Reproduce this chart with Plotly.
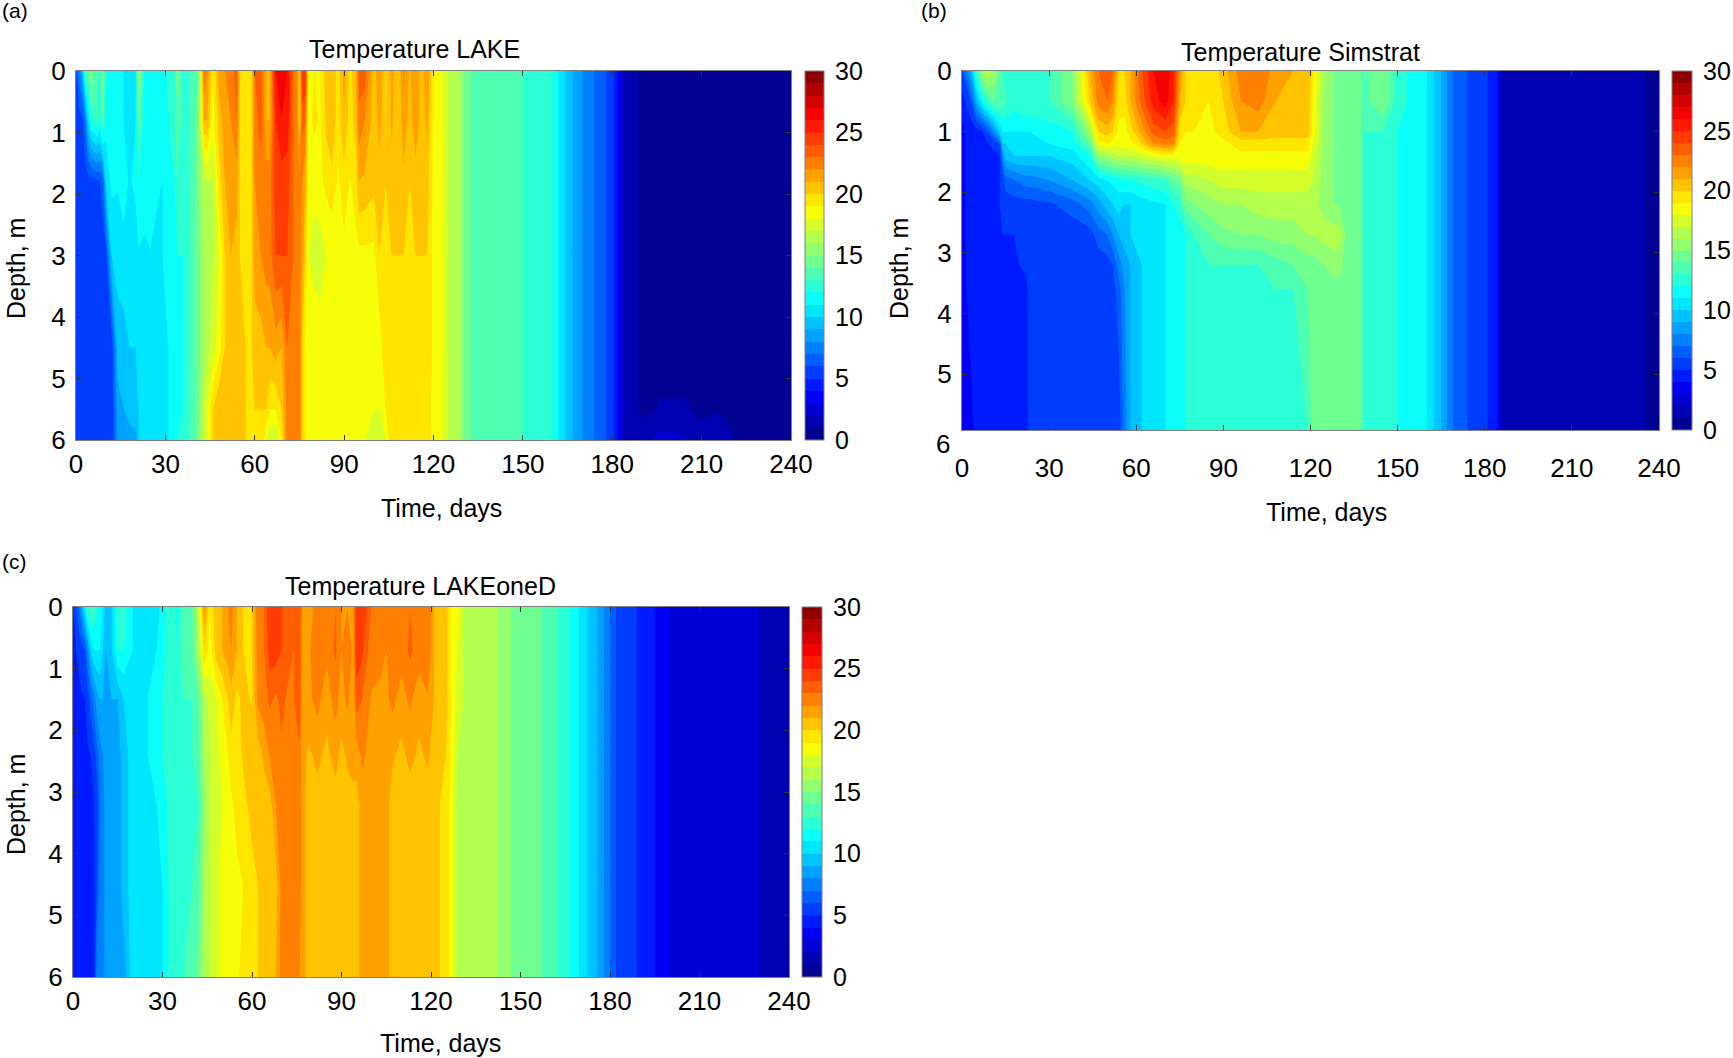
import numpy as np
import plotly.graph_objects as go

W, H = 1733, 1058
FONT = "Liberation Sans"
TICK_SIZE = 26
LABEL_SIZE = 25

x_ticks = [0, 30, 60, 90, 120, 150, 180, 210, 240]
y_ticks = [0, 1, 2, 3, 4, 5, 6]
cb_ticks = [0, 5, 10, 15, 20, 25, 30]

# ---------- (a) LAKE ----------
lake_days = [0,1,2,3,4,5,6,7,8,9,
             10,12,14,16,18,20,21,23,25,27,
             29,31,33,34,36,38,40,41,43,44,
             46,48,50,52,54,55,57,59,60,62,
             64,65,67,69,71,73,74,75,76,77,
             78,80,82,84,86,88,90,92,94,95,
             97,100,102,104,106,108,110,112,114,116,
             118,120,122,125,128,
             130,134,140,150,160,165,170,176,180,184,190,196,204,210,216,222,240]
lake_depths = [0, 0.8, 1.8, 3, 4.5, 5.5, 6]
lake_tail = [15,13.5,13.5,13,12,9.5,8,6.5,5.5,1.8,0.8,0.8,0.8,0.8,0.8,0.8,0.7]
lake_tail_low = [15,13.5,13.5,13,12,9.5,8,6.5,5.5,1.8,0.8,1.05,1.05,0.9,0.9,0.85,0.7]
lake_tail_bottom = [15,13.5,13.5,13,12,9.5,8,6.5,5.5,1.8,1.5,2.4,2.2,1.2,2.1,0.9,0.7]
lake_d0 = [6,7.5,9,13,13.5,16,14,14,12.5,15.5,
           12,11.5,11.5,11,11,11,16,12,12,11.5,
           11,12.5,12.5,15,12.5,13,14,14,23,22,
           19,21.5,22,22.5,23.5,20,20,20,23,23.5,
           21,21,26,26.5,26,23,23,19.5,25,25,
           19,19,19,20.5,21,19.5,21.5,19.5,21,23.5,
           23.5,20.5,22,19.8,21.5,20,22.3,20.8,22,20.5,
           22,18.7,18.7,17,17]
lake_d1 = [5.3,5.5,5.8,7,10,12,12.5,13,12,14,
           11.5,11.5,11.5,11,11,11,14,11.5,12,11.5,
           11,12,12.5,14,12.5,13,14,15,21,21,
           18.5,20.5,21.5,22,23,20,20,20,22.5,23.5,
           21,21,25,26,25.5,23,23,20,23.5,23,
           18.7,19.2,18.9,20.3,20.8,19.4,20.9,19.5,20.5,22.7,
           22,20.5,21.3,19.9,21.2,20,21.6,20.6,21.6,20.6,
           21.2,18.7,18.7,17,17]
lake_d2 = [5.2,5.2,5.3,5.3,5.4,5.5,5.6,5.8,6,6.5,
           10,11.3,11.1,11.4,10.9,11.2,12,11.5,12,11.3,
           11,11.5,12,13,12.5,13,14,15,16.5,17,
           17,19.5,21,21.5,21.5,20,20,20,22,22.5,
           22.5,22.5,24.5,24.5,24.5,23,23,22.5,22,21,
           18.9,18.4,18.7,19.3,19.7,18.8,19.6,18.9,19.5,21,
           20.8,20.3,20.7,20,20.6,20.1,20.8,20,20.6,20.2,
           20.5,18.7,18.7,17,17]
lake_d3 = [5.2,5.2,5.2,5.2,5.2,5.2,5.3,5.3,5.4,5.5,
           5.6,10,10.4,10.7,10.3,10.6,10.9,10.8,10.9,10.6,
           11,11.5,12,12,12,13,14,14.5,16,16.5,
           17,18,20,21,20.5,20,20,20,21.5,22,
           22.5,22.5,24,24,24,23,23,22.5,21.5,20,
           18,17.5,17.5,18,18,18.5,18.7,18.7,18.7,18.7,
           18.7,18.7,20,20,20,20,20,20,20,20,
           20,18.7,18.7,17,17]
lake_d4 = [5.2,5.2,5.2,5.2,5.2,5.2,5.2,5.2,5.3,5.3,
           5.3,5.4,9.5,9.5,10,10,10.5,11,11,11,
           11,11,12,12,12,13,14,14.5,16,16.5,
           17.5,18.5,20,21,21,20.5,20,20,20.5,20.5,
           21,21,21.5,21,23,23,23,23,20,19,
           19,19,18.5,18.5,18.5,18.5,18.7,18.5,18.5,18.5,
           18.5,18.5,18.5,20,20,20,20,20,20,20,
           20,18.7,18.7,17,17]
lake_d5 = [5.2,5.2,5.2,5.2,5.2,5.2,5.2,5.2,5.3,5.3,
           5.3,5.3,8.5,9,9.5,10,10,10.5,11,11,
           11,11,12,12,12,13,14,14.5,17,18,
           20,21,21,21,21,20.5,20,20,20,20,
           20,19,19,20,22.5,23,23,23,20,19,
           19,19,18.5,18.5,18.5,18.5,18.5,18.5,18.5,18.5,
           18.5,18,18,19,20,20,20,20,19.5,19.5,
           19.5,18.7,18.7,17,17]
lake_d6 = [5.2,5.2,5.2,5.2,5.2,5.2,5.2,5.2,5.3,5.3,
           5.3,5.3,8.5,9,8.5,8.5,10,10.5,11,11,
           11,11,12,12,13,13,14,15,17,18,
           20,21,21,21,21,20.5,20,20,20,20,
           18,17,17,19,23,23,23,23,20,19,
           19,19,18.5,18.5,18.5,18.5,18.5,18.5,18.5,18.5,
           18,17,17,18,20,20,20,20,19.5,19.5,
           19.5,18.7,18.7,17,17]
lake_z = np.array([lake_d0+lake_tail, lake_d1+lake_tail, lake_d2+lake_tail, lake_d3+lake_tail,
                   lake_d4+lake_tail, lake_d5+lake_tail_low, lake_d6+lake_tail_bottom])

# ---------- (b) Simstrat ----------
sim_days = [0,3,5,7,9,11,13,14,15,18,
            22,23,30,38,44,47,50,52,54,56,
            58,62,66,70,73,75,77,80,85,90,
            96,102,108,114,119,121,125,128,130,132,
            137,138,145,150,160,165,170,178,184,186,210,212,232,240]
sim_depths = [0, 0.5, 1, 1.2, 1.4, 1.8, 2.2, 2.7, 3.2, 3.6, 5.92]
sim_tail = [14.5,13,13,12,11,9,6.5,5.5,4.5,1.2,1.2,1.4,1.3,0.6]
sim_tail_top = [14.5,13.5,15,12.5,11,9,6.5,5.5,4.5,1.2,1.2,1.4,1.3,0.6]
sim_d0 = [6,9,13,16,17,16,14,13,13,12.5,
          13,13,13,15,21,23,23.5,23,20,20,
          21,24,26,27,25,22,20,20,19,20.5,
          22.5,23,21.5,21,21,19,16,15,15,15]
sim_d1 = [4.5,6,9,11.5,13,14,14,13.5,13,12.5,
          13,13,13,15,20,22.5,23,22,19.5,19.5,
          21,23.5,25.5,26.5,25,21,20,20,19,20,
          22,22.5,21,21,21,18.7,15.5,15,15,15]
sim_d2 = [3.8,4.3,4.5,5,6,8,10,11,11,11,
          11,11,11.5,12,16,20,20.5,20,18.7,18.5,
          19.5,21.5,23.5,24,23.5,19.5,19,19,18.7,19.5,
          21,21,20.5,20.5,20.5,18.5,15.5,15,15,15]
sim_d3 = [3.8,4.3,4.5,4.5,5,5.3,6,10,10,10.3,
          10.5,10.5,11,11.5,14,18.5,19,18.5,18.5,18.5,
          18.7,20,22,22.5,22,19,18.7,18.7,18.7,18.7,
          19.5,19.5,19.5,19.5,19.5,18,15.5,15,15,15]
sim_d4 = [3.8,4.3,4.5,4.5,4.6,4.8,5,8,9.5,10,
          10,10,10,10.5,12,15.5,16,16.5,17,17,
          17,17.5,18,18.5,18.5,18.5,18.7,18.7,18.7,18.7,
          18.7,18.7,18.7,18.7,18.7,17.5,15.5,15,15,15]
sim_d5 = [3.8,4.3,4.5,4.5,4.6,4.8,5,5.3,6.5,7,
          7.5,7.5,8,9,10,10.5,11,11.3,11.5,12,
          12,12.3,12.7,13,14,14.5,16.5,16.5,17,17.5,
          17.5,17.5,17.5,17.5,17.5,17,15.5,15,15,15]
sim_d6 = [3.8,4.3,4.5,4.5,4.6,4.8,5,5.3,5.4,5.5,
          5.6,5.6,5.8,6.5,7.5,8.5,9.5,10,10.5,10,
          10,10.5,10.8,11,12,12.5,14.5,15,15.5,16,
          16,16.5,16.5,16.5,16.5,16.5,15.5,15,15,15]
sim_d7 = [3.8,4.3,4.5,4.5,4.5,4.6,4.8,5,5,5,
          5.3,5.3,5.3,5.3,5.6,6.5,7,8,9,9.5,
          10,10.3,10.8,11,11.2,11.5,12,13,14,14.7,
          15,15,15.5,15.5,16,16,16.5,16.5,16.5,15]
sim_d8 = [3.8,4.2,4.3,4.3,4.4,4.5,4.5,4.7,4.7,4.8,
          5.3,5.3,5.3,5.3,5.3,5.4,5.5,6,7.5,8.5,
          9,10,10.8,11,11.2,11.5,12,13,13,13,
          13,13,13.5,14,14.5,14.5,15,15.5,15.5,14.5]
sim_d9 = [3.8,4.2,4.2,4.3,4.3,4.3,4.4,4.4,4.4,4.5,
          4.6,5.3,5.3,5.3,5.3,5.3,5.4,5.6,6.5,8,
          9,10,10.8,11,11.2,11.5,12,13,13,13,
          13,13,13,13,14,14.5,14.5,14.5,14.5,14.5]
sim_d10 = [3.8,3.8,4.3,4.3,4.3,4.3,4.3,4.3,4.3,4.3,
           4.3,5.3,5.3,5.3,5.3,5.3,5.3,5.3,5.3,7.5,
           9,10,10.8,11,11.2,11.5,12,13,13,13,
           13,13,13,13,13,14.5,14.5,14.5,14.5,14.5]
sim_z = np.array([sim_d0+sim_tail_top, sim_d1+sim_tail_top, sim_d2+sim_tail, sim_d3+sim_tail, sim_d4+sim_tail,
                  sim_d5+sim_tail, sim_d6+sim_tail, sim_d7+sim_tail, sim_d8+sim_tail, sim_d9+sim_tail, sim_d10+sim_tail])

# ---------- (c) LAKEoneD ----------
one_days = [0,1,2,3,4,5,6,7,8,9,
            10,11,13,15,17,20,22,25,28,30,
            33,35,37,40,42,44,46,48,50,52,
            53,55,57,60,62,64,66,68,70,72,
            74,76,77,79,82,85,88,90,92,94,
            95,97,100,103,105,107,110,113,116,119,
            121,123,125,127,129,
            131,136,140,147,154,160,165,171,177,183,189,195,201,225,232,240]
one_depths = [0, 0.7, 1.5, 2.4, 3.2, 4.5, 6]
one_tail = [17,17,16.5,15,14.5,13.5,12.5,10.5,8.5,5.5,5,4,2.8,2.5,1.8,1]
one_d0 = [5,6,7,9,11,13,13.5,13,12,12,
          11,9.5,10,12.5,12.5,11,10.5,10.5,10.5,11.5,
          13,11.5,14,14,17,22,19,21,21,22,
          22.5,21,20,20,23,23,25,25,24,23.5,
          23.5,24,21.5,21.5,22.5,22.5,23,22,22,22,
          25,25,23,23,22,23,23,23,23,23,
          21,20.5,20.5,18.5,18.5]
one_d1 = [4.8,5,5.2,5.5,6,8,10,11,11,11,
          10,9,10,12,12,11,10.5,10.5,11,11.5,
          13,12,13.5,14,16,20,18.5,20.5,21,21.5,
          22,21,20,20,22.5,23,24.5,24.5,24,23.5,
          23,23.8,21.2,21.8,22.8,22.2,23.2,22,22.6,21.8,
          24.8,24.2,22.4,23,22,23,22.4,23.2,22.5,23,
          21,20.5,20.5,18.5,18]
one_d2 = [4.6,4.7,4.8,4.9,5,5.5,6.5,7.5,8.5,9,
          9,9,9,9,10,10.5,11,11,11.5,12,
          12.5,13,13,13,14,16.5,17.5,18,19,20,
          20.6,19.7,20.3,19.9,22.3,22.6,23.2,22.8,23.3,22.8,
          23,24,21.2,21.8,22.3,21.5,22.4,21.6,22.2,21.4,
          23.5,23,21.9,21.3,21.7,22.3,21.6,22.2,21.4,21.9,
          21,20.5,20.5,18.7,17.5]
one_d3 = [4.5,4.6,4.7,4.8,4.8,4.9,5,5.5,6.5,7.5,
          8,8.5,8.5,8.5,9.5,10.5,11,11,11.5,12,
          12.5,13,13,13,13.5,16,17,17.5,18.5,19,
          19.6,19.3,20.2,20.7,20.4,21.2,22.1,22.5,22.8,22.4,
          22.5,22.8,21.3,20.8,21.3,20.7,21.4,20.7,21.2,21.6,
          21.5,22.2,21.6,21.2,21.8,21.2,20.7,21.3,20.8,21.2,
          20.5,20.5,20,18.7,17]
one_d4 = [4.5,4.5,4.6,4.7,4.7,4.8,4.8,5,5.5,7,
          7.5,8.5,8.5,8.5,9.5,10.5,10.8,10.8,11,11.5,
          12.5,13,13,13,13,15.5,17,17.5,18,18.7,
          18.7,19.5,19.5,20.5,20.5,20.5,20.5,22,22.5,22.5,
          22.5,22.5,21.5,20.5,20.5,20.5,20.5,20.5,20.5,20.5,
          20.5,21.5,21.5,21.5,21.5,20.5,20.5,20.5,20.5,20.5,
          20.5,20,19.5,18.7,16.5]
one_d5 = [4.5,4.5,4.5,4.5,4.6,4.7,4.7,4.8,6,7.5,
          7.5,8.5,8.5,8.5,9.5,10.5,10.8,10.8,11,11,
          12.5,13,13,13,13.5,16,17,17.5,18.5,18.7,
          18.7,18.7,19,19.5,20,20.5,20.5,20.5,22.5,22.5,
          22.5,22.5,21.5,20.5,20.5,20.5,20.5,20.5,20.5,20.5,
          20.5,21.5,21.5,21.5,21.5,20.5,20.5,20.5,20.5,20.5,
          20.5,20,19.5,18.7,16.5]
one_d6 = [4.5,4.5,4.5,4.5,4.6,4.7,4.7,4.8,7.5,7.5,
          7.5,8.5,8.5,8.5,8.5,10.5,10.5,10.5,11,11,
          12.5,13,13,13.5,14.5,16,17,17.5,18.7,18.7,
          18.7,18.7,19.5,19.5,20,20.5,20.5,21,22.5,22.5,
          22.5,22,21.5,20.5,20.5,20.5,20.5,20.5,20.5,20.5,
          20.5,21.5,21.5,21.5,21.5,20.5,20.5,20.5,20.5,20.5,
          20.5,20,19.5,18.7,16.5]
one_z = np.array([one_d0+one_tail, one_d1+one_tail, one_d2+one_tail, one_d3+one_tail,
                  one_d4+one_tail, one_d5+one_tail, one_d6+one_tail])

jet = [[0, "#000080"], [0.125, "#0000ff"], [0.375, "#00ffff"],
       [0.625, "#ffff00"], [0.875, "#ff0000"], [1, "#800000"]]

panels = [
    dict(days=lake_days, depths=lake_depths, z=lake_z, title="Temperature LAKE", tag="(a)", box=(76, 791, 71, 440),
         cb=(805, 19), yrange=[6, 0], title_xy=(414, 49), tag_xy=(0, 11), xstand=1,
         time_xy=(442, 508), depth_xy=(16, 269)),
    dict(days=sim_days, depths=sim_depths, z=sim_z, title="Temperature Simstrat", tag="(b)", box=(962, 1659, 71, 430),
         cb=(1672, 20), yrange=[5.92, 0], title_xy=(1300, 52), tag_xy=(919, 11), xstand=15,
         time_xy=(1326, 512), depth_xy=(899, 269)),
    dict(days=one_days, depths=one_depths, z=one_z, title="Temperature LAKEoneD", tag="(c)", box=(73, 789, 607, 977),
         cb=(802, 20), yrange=[6, 0], title_xy=(420, 586), tag_xy=(0, 561), xstand=1,
         time_xy=(440, 1043), depth_xy=(16, 805)),
]


def paper_text(text, xy, size, xanchor="center", angle=0):
    return dict(text=text, x=xy[0] / W, y=1 - xy[1] / H, xref="paper", yref="paper", xanchor=xanchor,
                yanchor="middle", showarrow=False, textangle=angle, font=dict(family=FONT, size=size, color="black"))


fig = go.Figure()
annotations = []
for i, p in enumerate(panels):
    n = "" if i == 0 else str(i + 1)
    x0, x1, y0, y1 = p["box"]
    fig.add_trace(go.Contour(
        x=p["days"], y=p["depths"], z=p["z"], xaxis="x" + n, yaxis="y" + n,
        colorscale=jet, zmin=0, zmax=30, autocontour=False,
        contours=dict(coloring="fill", start=0, end=30, size=1, showlines=False),
        line=dict(width=0, smoothing=0),
        colorbar=dict(
            x=p["cb"][0] / W, xanchor="left", xref="paper", thickness=p["cb"][1], thicknessmode="pixels",
            y=1 - (y0 + y1) / 2 / H, yanchor="middle", yref="paper", len=(y1 - y0) / H, lenmode="fraction",
            xpad=0, ypad=0, tickmode="array", tickvals=cb_ticks, ticks="outside", ticklen=6, tickcolor="white",
            outlinecolor="#808080", outlinewidth=1, tickfont=dict(family=FONT, size=LABEL_SIZE, color="black"),
        ),
    ))
    common = dict(showline=True, linecolor="#808080", linewidth=1, mirror="ticks", ticks="inside", ticklen=5,
                  tickcolor="#333333", tickfont=dict(family=FONT, size=TICK_SIZE, color="black"),
                  showgrid=False, zeroline=False, tickmode="array")
    fig.layout["xaxis" + n] = go.layout.XAxis(
        domain=[x0 / W, x1 / W], range=[0, 240], tickvals=x_ticks, anchor="y" + n,
        ticklabelstandoff=p["xstand"], **common)
    fig.layout["yaxis" + n] = go.layout.YAxis(
        domain=[1 - y1 / H, 1 - y0 / H], range=p["yrange"], tickvals=y_ticks, anchor="x" + n,
        ticklabelstandoff=4, **common)
    annotations.append(paper_text(p["title"], p["title_xy"], LABEL_SIZE))
    annotations.append(paper_text("Time, days", p["time_xy"], LABEL_SIZE))
    annotations.append(paper_text("Depth, m", p["depth_xy"], LABEL_SIZE, angle=-90))
    annotations.append(paper_text(p["tag"], p["tag_xy"], 21, xanchor="left"))

# panel (b): the axis frame stops just short of the 6 m tick, whose label sits below it
annotations.append(paper_text("6", (943, 444), TICK_SIZE))

fig.update_layout(width=W, height=H, margin=dict(l=0, r=0, t=0, b=0, autoexpand=False), autosize=False,
                  paper_bgcolor="white", plot_bgcolor="white", showlegend=False, annotations=annotations,
                  font=dict(family=FONT, color="black"))

fig.write_html("out.html", config={"displayModeBar": False},
               post_script="document.body.style.margin='0';document.body.style.overflow='hidden';")
